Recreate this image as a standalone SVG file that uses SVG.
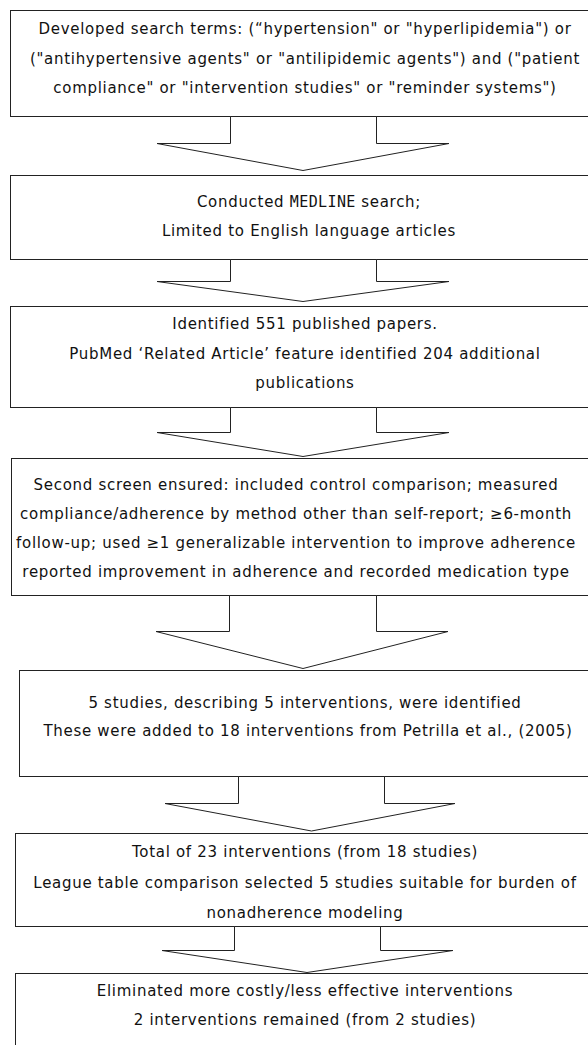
<svg xmlns="http://www.w3.org/2000/svg" width="588" height="1045" viewBox="0 0 588 1045">
<style>
.box{fill:#fff;stroke:#222;stroke-width:1}
.arr{fill:#fff;stroke:#222;stroke-width:1;stroke-linejoin:miter}
.t{font-family:"DejaVu Sans",Verdana,sans-serif;font-size:15px;letter-spacing:0.7px;fill:#111;text-anchor:middle}
.mono{font-family:"DejaVu Sans Mono","Liberation Mono",monospace;letter-spacing:0.4px}
</style>
<rect width="588" height="1045" fill="#fff"/>
<g id="node1">
<rect class="box" x="10.5" y="10.5" width="600" height="106"/>
<text class="t" x="305" y="34">Developed search terms: (“hypertension" or "hyperlipidemia") or</text>
<text class="t" x="305" y="63.5">("antihypertensive agents" or "antilipidemic agents") and ("patient</text>
<text class="t" x="305" y="93">compliance" or "intervention studies" or "reminder systems")</text>
</g>
<g id="node2">
<rect class="box" x="10.5" y="175.5" width="600" height="84"/>
<text class="t" x="309" y="207">Conducted <tspan class="mono">MEDLINE</tspan> search;</text>
<text class="t" x="309" y="236">Limited to English language articles</text>
</g>
<g id="node3">
<rect class="box" x="10.5" y="306.5" width="600" height="101"/>
<text class="t" x="305" y="329">Identified 551 published papers.</text>
<text class="t" x="305" y="358.5">PubMed ‘Related Article’ feature identified 204 additional</text>
<text class="t" x="305" y="388">publications</text>
</g>
<g id="node4">
<rect class="box" x="11.5" y="458.5" width="600" height="137"/>
<text class="t" x="296" y="489.5">Second screen ensured: included control comparison; measured</text>
<text class="t" x="296" y="518.5">compliance/adherence by method other than self-report; ≥6-month</text>
<text class="t" x="296" y="547.5">follow-up; used ≥1 generalizable intervention to improve adherence</text>
<text class="t" x="296" y="577">reported improvement in adherence and recorded medication type</text>
</g>
<g id="node5">
<rect class="box" x="19.5" y="670.5" width="600" height="106"/>
<text class="t" x="305" y="708">5 studies, describing 5 interventions, were identified</text>
<text class="t" x="308" y="736">These were added to 18 interventions from Petrilla et al., (2005)</text>
</g>
<g id="node6">
<rect class="box" x="15.5" y="833.5" width="600" height="93"/>
<text class="t" x="305" y="857">Total of 23 interventions (from 18 studies)</text>
<text class="t" x="305" y="888">League table comparison selected 5 studies suitable for burden of</text>
<text class="t" x="305" y="918">nonadherence modeling</text>
</g>
<g id="node7">
<rect class="box" x="15.5" y="973.5" width="600" height="100"/>
<text class="t" x="305" y="996">Eliminated more costly/less effective interventions</text>
<text class="t" x="305" y="1025">2 interventions remained (from 2 studies)</text>
</g>
<g id="connectors">
<polygon class="arr" points="230.5,116.5 230.5,143.5 157,143.5 303,170.5 449,143.5 376.5,143.5 376.5,116.5"/>
<polygon class="arr" points="230.5,259.5 230.5,281.5 157,281.5 303,301.5 449,281.5 376.5,281.5 376.5,259.5"/>
<polygon class="arr" points="230.5,407.5 230.5,432.5 157,432.5 303,456.5 449,432.5 376.5,432.5 376.5,407.5"/>
<polygon class="arr" points="229.5,595.5 229.5,631.5 156,631.5 303,668.5 448,631.5 376.5,631.5 376.5,595.5"/>
<polygon class="arr" points="238.5,776.5 238.5,803.5 165,803.5 311.5,831 455,803.5 384.5,803.5 384.5,776.5"/>
<polygon class="arr" points="234.5,926.5 234.5,950.5 162,950.5 307,972.5 453,950.5 380.5,950.5 380.5,926.5"/>
</g>
</svg>
